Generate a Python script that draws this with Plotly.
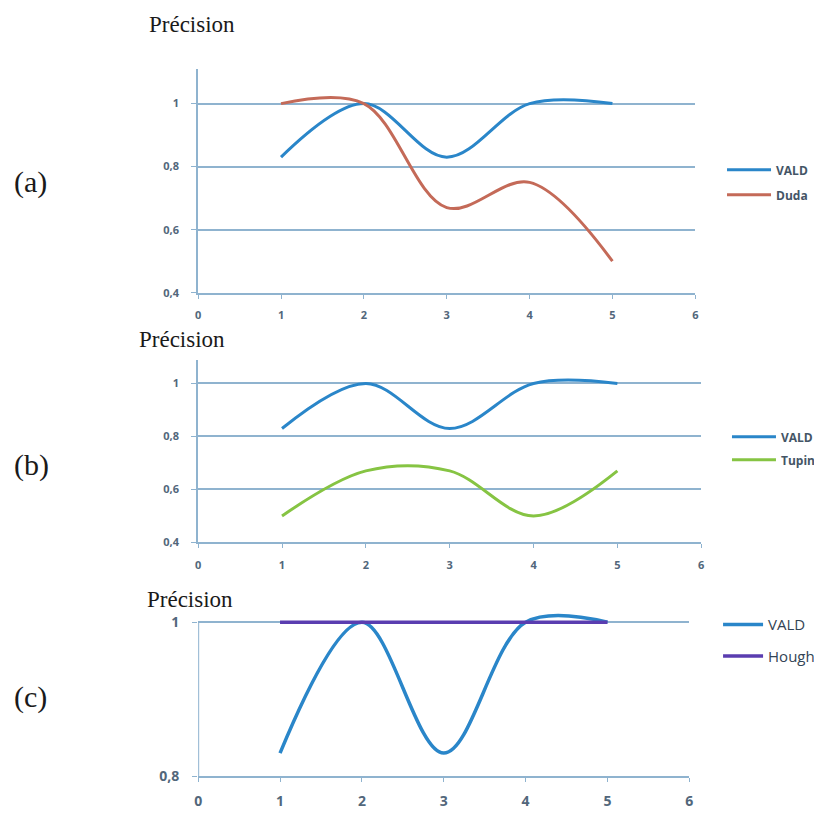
import plotly.graph_objects as go

x_vals = [1, 2, 3, 4, 5]
vald = [0.83, 1.0, 0.83, 1.0, 1.0]
duda = [1.0, 1.0, 0.67, 0.75, 0.5]
tupin = [0.5, 0.67, 0.67, 0.5, 0.67]
hough = [1.0, 1.0, 1.0, 1.0, 1.0]

x_ticks = [0, 1, 2, 3, 4, 5, 6]
y_ticks_ab = [0.4, 0.6, 0.8, 1.0]
y_text_ab = ["0,4", "0,6", "0,8", "1"]
y_ticks_c = [0.8, 1.0]
y_text_c = ["0,8", "1"]

BLUE = "#2a86c9"
RED = "#c46a58"
GREEN = "#86c443"
PURPLE = "#5a3db0"
GRID = "#8fb3cf"
TICKC = "#52677b"

W, H = 822, 815
OFF = 8      # page offset
SY = 0.99    # observed vertical scale
def fx(xfig): return xfig / W
def py(y): return 1 - ((y - OFF) / SY) / H
def fy(yfig): return 1 - yfig / H

fig = go.Figure()

def line(xs, ys, name, color, xa, ya, leg, width=3):
    fig.add_trace(go.Scatter(x=xs, y=ys, name=name, mode="lines",
                             line=dict(color=color, width=width, shape="spline", smoothing=1),
                             xaxis=xa, yaxis=ya, legend=leg, legendgroup=name + leg))

line(x_vals, vald, "VALD", BLUE, "x", "y", "legend")
line(x_vals, duda, "Duda", RED, "x", "y", "legend")
line(x_vals, vald, "VALD", BLUE, "x2", "y2", "legend2")
line(x_vals, tupin, "Tupin", GREEN, "x2", "y2", "legend2")
line(x_vals, vald, "VALD", BLUE, "x3", "y3", "legend3", width=3.5)
line(x_vals, hough, "Hough", PURPLE, "x3", "y3", "legend3", width=3.5)

def xax(dom, anchor, size):
    return dict(domain=dom, anchor=anchor, range=[0, 6], tickvals=x_ticks,
                ticktext=[str(v) for v in x_ticks], showgrid=False, zeroline=False,
                showline=True, linecolor=GRID, linewidth=2, ticks="outside",
                ticklen=4, tickcolor=GRID,
                tickfont=dict(family="Open Sans", size=size, color=TICKC, weight="bold"),
                ticklabelstandoff=7, fixedrange=True)

def yax(dom, anchor, rng, tv, tt, size, showline=True):
    return dict(domain=dom, anchor=anchor, range=rng, tickvals=tv, ticktext=tt,
                showgrid=True, gridcolor=GRID, gridwidth=1.5, zeroline=False,
                showline=showline, linecolor=GRID, linewidth=2, ticks="outside",
                ticklen=5, tickcolor=GRID,
                tickfont=dict(family="Open Sans", size=size, color=TICKC, weight="bold"),
                ticklabelstandoff=10, fixedrange=True)

fig.update_layout(
    width=W, height=H, margin=dict(l=0, r=0, t=0, b=0),
    paper_bgcolor="white", plot_bgcolor="white",
    xaxis=xax([fx(188), fx(690)], "y", 11),
    yaxis=yax([py(293), py(69)], "x", [0.4, 1.11], y_ticks_ab, y_text_ab, 11),
    xaxis2=xax([fx(188), fx(696)], "y2", 11),
    yaxis2=yax([py(543), py(360)], "x2", [0.4, 1.09], y_ticks_ab, y_text_ab, 11),
    xaxis3=xax([fx(188), fx(684)], "y3", 14),
    yaxis3=yax([py(777), py(606)], "x3", [0.8, 1.022], y_ticks_c, y_text_c, 14, showline=False),
    legend=dict(x=fx(717), y=fy(149), xanchor="left", yanchor="top", tracegroupgap=6,
                itemwidth=44,
                font=dict(family="Open Sans", size=12, color="#445566", weight="bold"),
                bgcolor="rgba(0,0,0,0)"),
    legend2=dict(x=fx(722), y=fy(419), xanchor="left", yanchor="top", tracegroupgap=4,
                 itemwidth=44,
                 font=dict(family="Open Sans", size=12, color="#445566", weight="bold"),
                 bgcolor="rgba(0,0,0,0)"),
    legend3=dict(x=fx(713), y=fy(607), xanchor="left", yanchor="top", tracegroupgap=9,
                 itemwidth=40,
                 font=dict(family="Open Sans", size=15, color="#334455"),
                 bgcolor="rgba(0,0,0,0)"),
    showlegend=True,
)

# y axis line for panel (c) stops at 1
fig.add_shape(type="line", xref="x3", yref="y3", x0=0, x1=0, y0=0.8, y1=1.0,
              line=dict(color=GRID, width=2))

serif = dict(family="Liberation Serif", color="#1a1a1a")
for txt, x, y in [("Précision", 136, 25), ("Précision", 126, 340), ("Précision", 134, 600)]:
    fig.add_annotation(text=txt, x=fx(x), y=py(y), xref="paper", yref="paper",
                       xanchor="left", yanchor="middle", showarrow=False,
                       font=dict(size=23, **serif))
for txt, y in [("(a)", 182), ("(b)", 465), ("(c)", 698)]:
    fig.add_annotation(text=txt, x=fx(0), y=py(y), xref="paper", yref="paper",
                       xanchor="left", yanchor="middle", showarrow=False,
                       font=dict(size=30, **serif))

fig.write_html("out.html")
